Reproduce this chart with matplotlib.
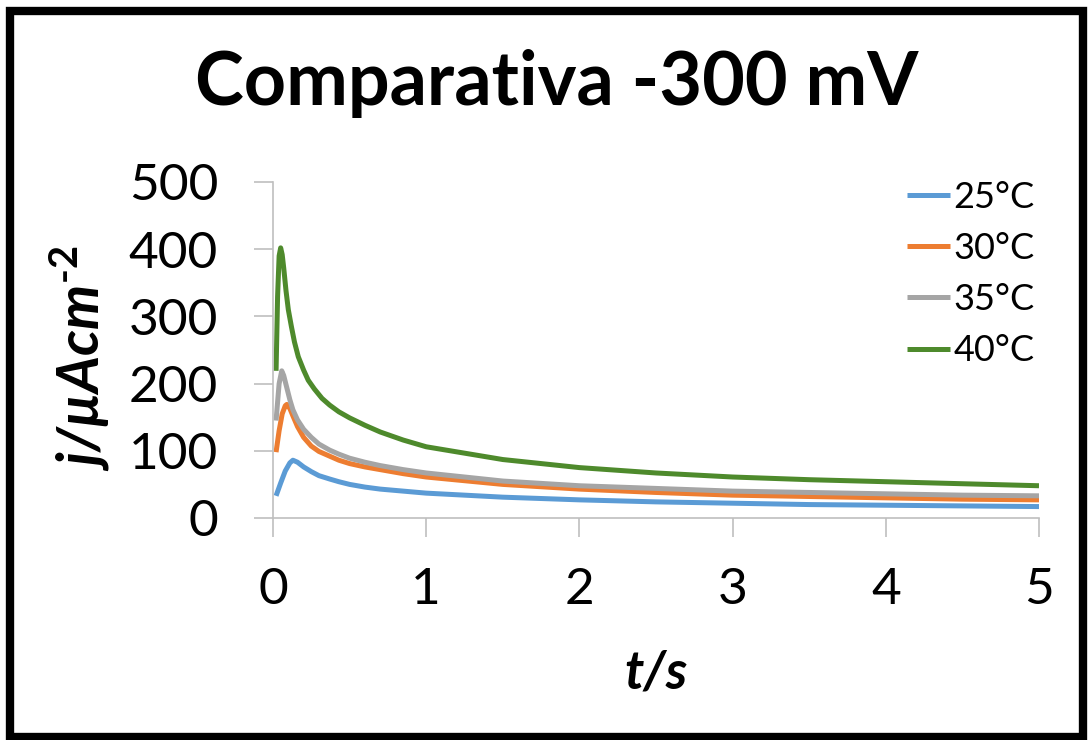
import matplotlib
matplotlib.use('Agg')
import matplotlib.pyplot as plt
from matplotlib.patches import Rectangle

plt.rcParams['font.family'] = ['Lato', 'DejaVu Sans']
plt.rcParams['mathtext.fontset'] = 'custom'
plt.rcParams['mathtext.rm'] = 'Lato:bold'
plt.rcParams['mathtext.bf'] = 'Lato:bold'
plt.rcParams['mathtext.it'] = 'Lato:italic:bold'

# data (t in s, j in uA/cm2)
t25 = [0.02, 0.05, 0.08, 0.11, 0.13, 0.16, 0.2, 0.25, 0.3, 0.37, 0.43, 0.5, 0.6, 0.7, 0.85, 1.0, 1.5, 2.0, 2.5, 3.0, 3.5, 4.0, 4.5, 5.0]
j25 = [33, 52, 70, 82, 86, 83, 76, 69, 63, 58, 54, 50, 46, 43, 40, 37, 31, 27, 24, 22, 20, 19, 18, 17]

t30 = [0.02, 0.04, 0.06, 0.08, 0.09, 0.11, 0.13, 0.16, 0.2, 0.25, 0.3, 0.37, 0.43, 0.5, 0.6, 0.7, 0.85, 1.0, 1.5, 2.0, 2.5, 3.0, 3.5, 4.0, 4.5, 5.0]
j30 = [98, 130, 155, 167, 169, 163, 152, 136, 120, 107, 99, 92, 86, 81, 76, 72, 66, 61, 50, 43, 38, 34, 32, 30, 28, 27]

t35 = [0.02, 0.04, 0.057, 0.07, 0.09, 0.11, 0.13, 0.16, 0.2, 0.25, 0.3, 0.37, 0.43, 0.5, 0.6, 0.7, 0.85, 1.0, 1.5, 2.0, 2.5, 3.0, 3.5, 4.0, 4.5, 5.0]
j35 = [145, 200, 219, 212, 194, 176, 161, 146, 132, 120, 110, 101, 95, 89, 83, 78, 72, 67, 55, 48, 44, 40, 38, 36, 34, 33]

t40 = [0.02, 0.03, 0.04, 0.05, 0.06, 0.07, 0.085, 0.1, 0.12, 0.14, 0.165, 0.2, 0.23, 0.27, 0.32, 0.37, 0.43, 0.5, 0.6, 0.7, 0.85, 1.0, 1.5, 2.0, 2.5, 3.0, 3.5, 4.0, 4.5, 5.0]
j40 = [219, 330, 390, 402, 392, 372, 338, 310, 285, 262, 240, 220, 205, 192, 178, 168, 158, 149, 138, 128, 116, 106, 87, 75, 67, 61, 57, 54, 51, 48]

labels = ['25°C', '30°C', '35°C', '40°C']
colors = ['#5B9BD5', '#ED7D31', '#A5A5A5', '#4E8A2C']

fig = plt.figure(figsize=(10.92, 7.4), dpi=100)
ax = fig.add_axes([273/1092, 1 - 518/740, 766/1092, 336/740])

for t, j, lab, c in zip([t25, t30, t35, t40], [j25, j30, j35, j40], labels, colors):
    ax.plot(t, j, color=c, lw=3.6, label=lab, solid_capstyle='butt', solid_joinstyle='round')

ax.set_xlim(0, 5)
ax.set_ylim(0, 500)
ax.set_xticks(range(0, 6))
ax.set_yticks(range(0, 501, 100))
for s in ['top', 'right']:
    ax.spines[s].set_visible(False)
for s in ['left', 'bottom']:
    ax.spines[s].set_color('#bfbfbf')
    ax.spines[s].set_linewidth(1.2)
ax.tick_params(direction='out', length=13.5, width=1.2, color='#bfbfbf', labelsize=37)
ax.tick_params(axis='x', pad=22)
ax.tick_params(axis='y', pad=26)

fig.text(557/1092, 1 - 83/740, 'Comparativa -300 mV', ha='center', va='center',
         fontsize=53, fontweight='bold')
fig.text(656/1092, 1 - 673/740, 't/s', ha='center', va='center',
         fontsize=38, fontweight='bold', style='italic')
fig.text(80/1092, 1 - 358/740, r'j/µAcm$^{\text{-}2}$', ha='center', va='center',
         rotation=90, fontsize=41, fontweight='bold', style='italic')

ax.legend(loc='upper left', bbox_to_anchor=(907/1092, 1 - 181/740), bbox_transform=fig.transFigure,
          frameon=False, fontsize=26, handlelength=1.2, handletextpad=0.08, labelspacing=0.5,
          borderpad=0, borderaxespad=0)

fig.patches.append(Rectangle((10/1092, 3/740), 1073/1092, 726/740, transform=fig.transFigure,
                             fill=False, edgecolor='black', lw=6, figure=fig))

fig.savefig('out.png', dpi=100)
